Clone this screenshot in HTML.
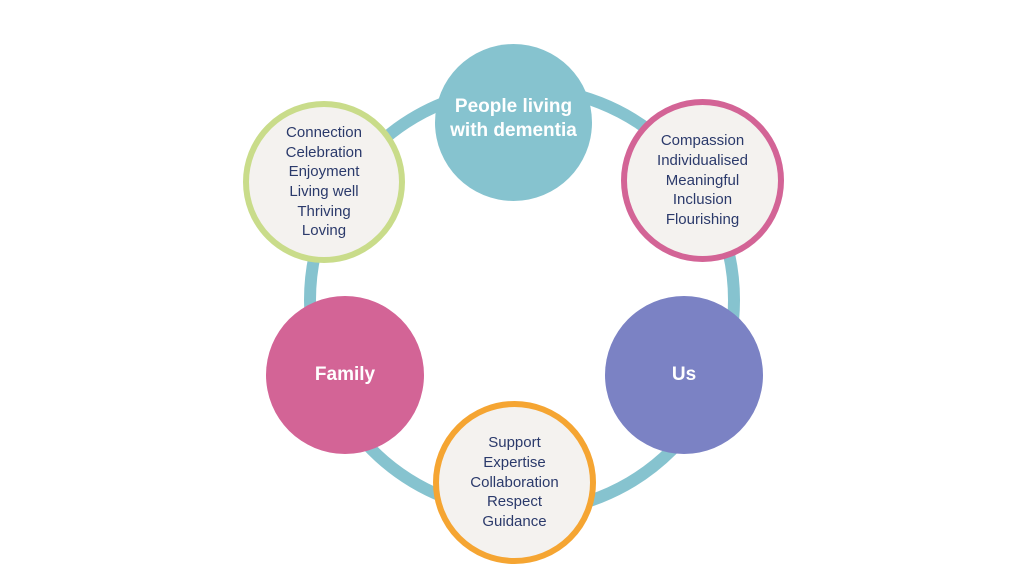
<!DOCTYPE html>
<html><head><meta charset="utf-8"><style>
html,body{margin:0;padding:0;background:#fff;}
body{width:1035px;height:582px;position:relative;overflow:hidden;font-family:"Liberation Sans",sans-serif;}
.c{position:absolute;border-radius:50%;box-sizing:border-box;display:flex;align-items:center;justify-content:center;text-align:center;}
.t{background:#f4f2ef;color:#2b3a6b;font-size:15px;line-height:19.7px;border-width:6px;border-style:solid;}
.s{color:#fff;font-weight:bold;font-size:19px;line-height:24px;}
</style></head><body>
<svg width="1035" height="582" style="position:absolute;left:0;top:0">
<circle cx="522" cy="300" r="212" fill="none" stroke="#86c3cf" stroke-width="12"/>
</svg>
<div class="c s" style="left:435px;top:44px;width:157px;height:157px;background:#86c3cf;padding-bottom:8px">People living<br>with dementia</div>
<div class="c t" style="left:621px;top:99px;width:163px;height:163px;border-color:#d36496;">Compassion<br>Individualised<br>Meaningful<br>Inclusion<br>Flourishing</div>
<div class="c t" style="left:243px;top:101px;width:162px;height:162px;border-color:#c9dc8a;">Connection<br>Celebration<br>Enjoyment<br>Living well<br>Thriving<br>Loving</div>
<div class="c s" style="left:266px;top:296px;width:158px;height:158px;background:#d36496;">Family</div>
<div class="c s" style="left:605px;top:296px;width:158px;height:158px;background:#7b82c4;">Us</div>
<div class="c t" style="left:433px;top:401px;width:163px;height:163px;border-color:#f5a532;">Support<br>Expertise<br>Collaboration<br>Respect<br>Guidance</div>
</body></html>
